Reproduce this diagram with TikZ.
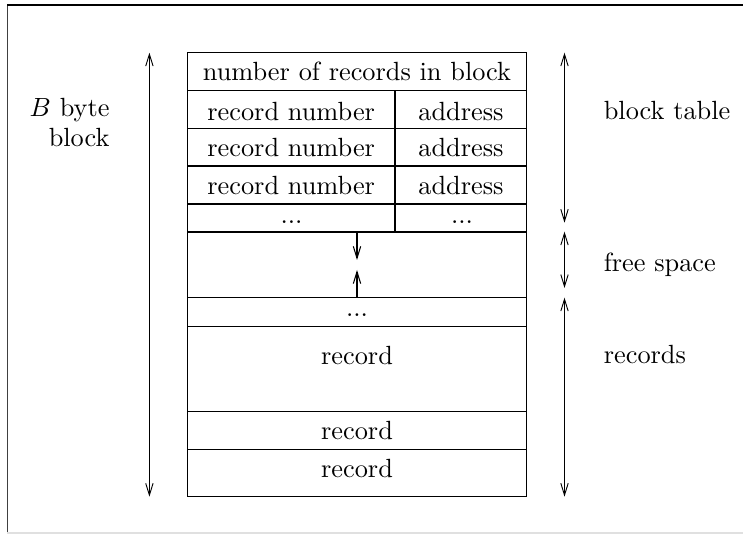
\documentclass[tikz,border=0pt]{standalone}
\usetikzlibrary{arrows.meta}
\def\pxu{0.38pt}
\begin{document}
\begin{tikzpicture}[x=0.38pt,y=-0.38pt,
  cell/.style={draw, line width=0.4pt, inner sep=0pt, outer sep=0pt, anchor=north west},
  txt/.style={inner sep=0pt, anchor=base},
  lbl/.style={inner sep=0pt, anchor=base west},
  lblr/.style={inner sep=0pt, anchor=base east},
  tipb/.tip={Straight Barb[length=4.5pt,width=2.8pt]},
  dimarrow/.style={tipb-tipb, line width=0.35pt},
  ptr/.style={-tipb, line width=0.4pt}]
\useasboundingbox (0,0) rectangle (743,534);
% frame
\draw[black!75, line width=0.5pt] (7.3,534) -- (7.3,5);
\draw[black, line width=0.5pt] (7.3,5) -- (743,5);
\draw[black!12, line width=0.5pt] (7.3,533) -- (743,533);

% table cells
\node[cell, minimum width=339.4*\pxu, minimum height=38*\pxu] (hdr) at (187.3,52.7) {};
\node[cell, minimum width=207.7*\pxu, minimum height=37.6*\pxu] (rnA) at (187.3,90.7) {};
\node[cell, minimum width=131.7*\pxu, minimum height=37.6*\pxu] (adA) at (395,90.7) {};
\node[cell, minimum width=207.7*\pxu, minimum height=37.7*\pxu] (rnB) at (187.3,128.3) {};
\node[cell, minimum width=131.7*\pxu, minimum height=37.7*\pxu] (adB) at (395,128.3) {};
\node[cell, minimum width=207.7*\pxu, minimum height=38*\pxu] (rnC) at (187.3,166) {};
\node[cell, minimum width=131.7*\pxu, minimum height=38*\pxu] (adC) at (395,166) {};
\node[cell, minimum width=207.7*\pxu, minimum height=27.7*\pxu] (rnD) at (187.3,204) {};
\node[cell, minimum width=131.7*\pxu, minimum height=27.7*\pxu] (adD) at (395,204) {};
\node[cell, minimum width=339.4*\pxu, minimum height=66*\pxu] (free) at (187.3,231.7) {};
\node[cell, minimum width=339.4*\pxu, minimum height=28.6*\pxu] (more) at (187.3,297.7) {};
\node[cell, minimum width=339.4*\pxu, minimum height=85.4*\pxu] (recA) at (187.3,326.3) {};
\node[cell, minimum width=339.4*\pxu, minimum height=37.6*\pxu] (recB) at (187.3,411.7) {};
\node[cell, minimum width=339.4*\pxu, minimum height=47.4*\pxu] (recC) at (187.3,449.3) {};
\draw[line width=0.8pt] (free.north west) -- (free.north east);

% cell texts
\node[txt] (thdr) at (357,80.5) {number of records in block};
\node[txt] (trnA) at (291.2,120.5) {record number};
\node[txt] (tadA) at (461,120.5) {address};
\node[txt] (trnB) at (291.2,157) {record number};
\node[txt] (tadB) at (461,157) {address};
\node[txt] (trnC) at (291.2,194.5) {record number};
\node[txt] (tadC) at (461,194.5) {address};
\node[txt] (trnD) at (291.5,224) {...};
\node[txt] (tadD) at (462,224) {...};
\node[txt] (tmore) at (357,317) {...};
\node[txt] (trecA) at (357,364.5) {record};
\node[txt] (trecB) at (357,440) {record};
\node[txt] (trecC) at (357,478) {record};

% free-space pointers
\coordinate (fsTop) at (357,231.7);
\coordinate (fsTopEnd) at (357,260);
\coordinate (fsBot) at (357,297.7);
\coordinate (fsBotEnd) at (357,270);
\draw[ptr] (fsTop) -- (fsTopEnd);
\draw[ptr] (fsBot) -- (fsBotEnd);

% left dimension arrow
\coordinate (lTop) at (149.4,52.7);
\coordinate (lBot) at (149.4,496.7);
\draw[dimarrow] (lTop) -- (lBot);
\node[lblr] (bbyte) at (110,116.5) {$B$ byte};
\node[lblr] (bblock) at (110,146.5) {block};

% right dimension arrows
\coordinate (r1) at (564.5,52.7);
\coordinate (r2) at (564.5,222.7);
\coordinate (r3) at (564.5,231.7);
\coordinate (r4) at (564.5,288);
\coordinate (r5) at (564.5,297.7);
\coordinate (r6) at (564.5,496.7);
\draw[dimarrow] (r1) -- (r2);
\draw[dimarrow] (r3) -- (r4);
\draw[dimarrow] (r5) -- (r6);
\node[lbl] (lbt) at (603.3,119.5) {block table};
\node[lbl] (lfs) at (603.3,271.5) {free space};
\node[lbl] (lrec) at (603.3,363.5) {records};
\end{tikzpicture}
\end{document}
